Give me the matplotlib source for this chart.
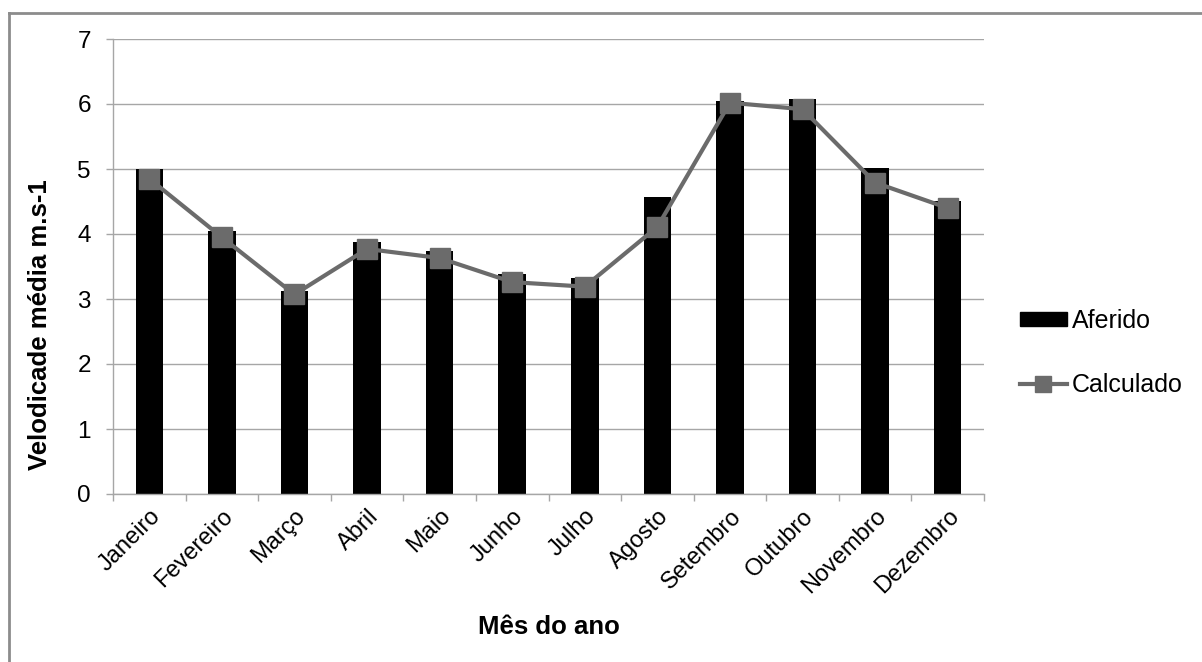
import matplotlib
matplotlib.use("Agg")
import matplotlib.pyplot as plt
from matplotlib.lines import Line2D
import numpy as np

plt.rcParams['font.family'] = ['Liberation Sans', 'DejaVu Sans']

meses = ["Janeiro", "Fevereiro", "Março", "Abril", "Maio", "Junho",
         "Julho", "Agosto", "Setembro", "Outubro", "Novembro", "Dezembro"]
aferido = [5.00, 4.05, 3.12, 3.87, 3.74, 3.39, 3.32, 4.57, 6.05, 6.08, 5.02, 4.51]
calculado = [4.85, 3.95, 3.07, 3.77, 3.63, 3.26, 3.19, 4.11, 6.02, 5.92, 4.79, 4.40]
yticks = [0, 1, 2, 3, 4, 5, 6, 7]

grid_c = "#a6a6a6"
line_c = "#6b6b6b"

fig = plt.figure(figsize=(12.02, 6.62), dpi=100)
ax = fig.add_axes([113 / 1202, 1 - 494 / 662, (984 - 113) / 1202, (494 - 39) / 662])

x = np.arange(len(meses))
ax.bar(x, aferido, width=0.38, color="black", zorder=2, label="Aferido")
ax.plot(x, calculado, color=line_c, lw=3, marker="s", markersize=14,
        markerfacecolor=line_c, markeredgecolor=line_c, zorder=3, label="Calculado")

ax.set_xlim(-0.5, len(meses) - 0.5)
ax.set_ylim(0, 7)
ax.set_yticks(yticks)
ax.set_yticklabels([str(v) for v in yticks], fontsize=17.5)
ax.yaxis.grid(True, color=grid_c, lw=1, zorder=0)
ax.set_axisbelow(True)

ax.set_xticks(x)
ax.set_xticklabels(meses, rotation=45, ha="right", rotation_mode="anchor", fontsize=17)
ax.set_xticks(np.arange(-0.5, len(meses), 1.0), minor=True)
ax.tick_params(axis="x", which="major", length=0, pad=8)
ax.tick_params(axis="x", which="minor", length=5, color=grid_c, width=1)
ax.tick_params(axis="y", length=5, color=grid_c, width=1, pad=11)

for s in ("top", "right"):
    ax.spines[s].set_visible(False)
for s in ("left", "bottom"):
    ax.spines[s].set_color(grid_c)
    ax.spines[s].set_linewidth(1)

ax.set_xlabel("Mês do ano", fontsize=18.5, fontweight="bold")
ax.xaxis.set_label_coords(0.5, -(615 - 494) / 455)
ax.set_ylabel("Velodicade média m.s-1", fontsize=18.5, fontweight="bold")
ax.yaxis.set_label_coords(-(113 - 52) / 871, (494 - 325) / 455)

handles = [
    plt.Rectangle((0, 0), 1, 1, color="black"),
    Line2D([0], [0], color=line_c, lw=3, marker="s", markersize=12,
           markerfacecolor=line_c, markeredgecolor=line_c),
]
fig.legend(handles, ["Aferido", "Calculado"], loc="center left",
           bbox_to_anchor=(997 / 1202, 1 - 353 / 662), frameon=False,
           fontsize=18, handlelength=1.9, handletextpad=0.2, labelspacing=1.6,
           handleheight=0.45)

# outer frame of the chart area
fig.add_artist(Line2D([9 / 1202, 9 / 1202], [0, 1 - 13 / 662], transform=fig.transFigure,
                      color="#8c8c8c", lw=2))
fig.add_artist(Line2D([9 / 1202, 1], [1 - 13 / 662, 1 - 13 / 662], transform=fig.transFigure,
                      color="#8c8c8c", lw=2))

fig.savefig("out.png", dpi=100)
